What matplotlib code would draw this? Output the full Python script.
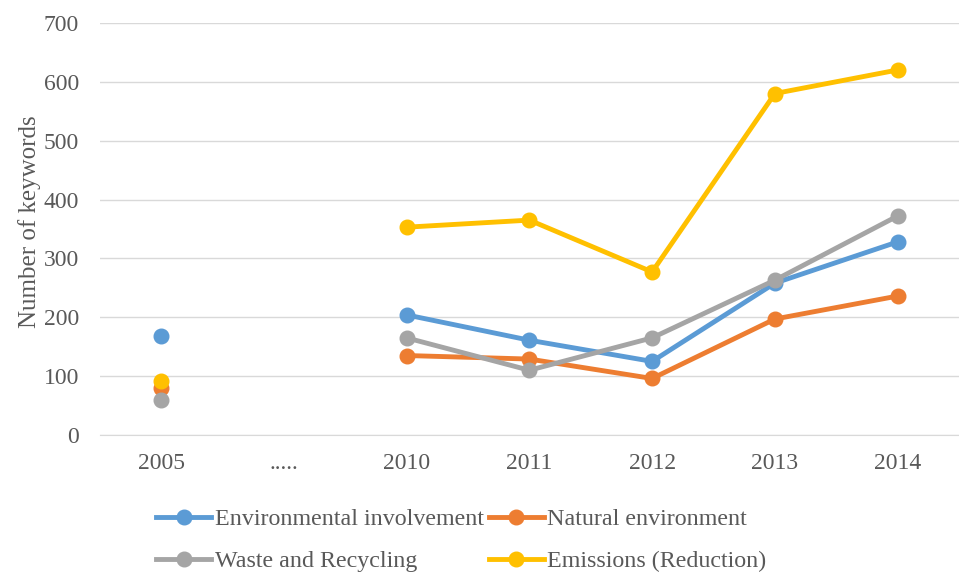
import numpy as np
import matplotlib.pyplot as plt

plt.rcParams['font.family'] = ['Liberation Serif', 'DejaVu Serif']

categories = ['2005', '.....', '2010', '2011', '2012', '2013', '2014']
nan = np.nan
env_involvement = [168, nan, 204, 161, 125, 258, 328]
natural_env = [80, nan, 135, 129, 96, 197, 236]
waste_recycling = [59, nan, 165, 110, 165, 263, 372]
emissions = [92, nan, 353, 365, 277, 580, 620]

series = [
    ('Environmental involvement', env_involvement, '#5B9BD5'),
    ('Natural environment', natural_env, '#ED7D31'),
    ('Waste and Recycling', waste_recycling, '#A5A5A5'),
    ('Emissions (Reduction)', emissions, '#FFC000'),
]

fig = plt.figure(figsize=(9.59, 5.72), dpi=100)
ax = fig.add_axes([0.104, 0.2395, 0.896, 0.7205])

x = np.arange(len(categories))
handles = []
for name, vals, col in series:
    h, = ax.plot(x, vals, '-o', color=col, lw=3.5, ms=10.5, label=name, zorder=3)
    handles.append(h)

ax.set_xlim(-0.5, len(categories) - 0.5)
ax.set_ylim(0, 700)
ax.set_yticks(range(0, 701, 100))
ax.set_xticks(x)
ax.set_xticklabels(categories)
ax.grid(axis='y', color='#D9D9D9', lw=1)
ax.set_axisbelow(True)
for s in ['top', 'right', 'left']:
    ax.spines[s].set_visible(False)
ax.spines['bottom'].set_color('#D9D9D9')
ax.tick_params(length=0, labelsize=17, colors='#595959')
ax.tick_params(axis='y', pad=15)
ax.tick_params(axis='x', pad=13)
ax.set_ylabel('Number of keywords', fontsize=18, color='#595959')
ax.yaxis.set_label_coords(-0.068, 0.517)

# row-wise legend order: matplotlib fills columns first
order = [0, 2, 1, 3]
fig.legend([handles[i] for i in order], [series[i][0] for i in order],
           loc='upper center', bbox_to_anchor=(0.481, 0.128), ncol=2,
           frameon=False, fontsize=17.3, labelcolor='#595959',
           handlelength=2.3, handletextpad=0.15, columnspacing=0.2,
           labelspacing=0.85, borderaxespad=0)

plt.savefig('out.png', dpi=100)
